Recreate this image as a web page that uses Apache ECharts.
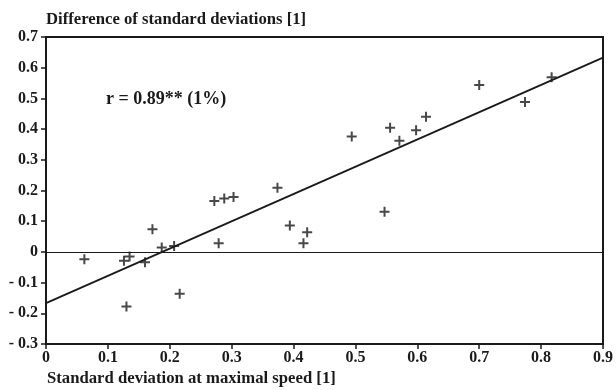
<!DOCTYPE html>
<html>
<head>
<meta charset="utf-8">
<script src="https://cdn.jsdelivr.net/npm/echarts@6/dist/echarts.min.js"></script>
<style>
  html, body { margin: 0; padding: 0; background: #fff; }
  #chart { width: 616px; height: 390px; }
</style>
</head>
<body>
<div id="chart"></div>
<script>
// measured points (x = SD at maximal speed, y = difference of SDs)
const sdMaxSpeed = [0.062, 0.126, 0.135, 0.160, 0.172, 0.187, 0.207, 0.130, 0.216,
  0.272, 0.288, 0.303, 0.374, 0.279, 0.394, 0.422, 0.416,
  0.494, 0.547, 0.556, 0.571, 0.598, 0.614, 0.700, 0.774, 0.817];
const sdDiff = [-0.024, -0.029, -0.015, -0.034, 0.074, 0.014, 0.019, -0.178, -0.136,
  0.166, 0.174, 0.179, 0.209, 0.028, 0.086, 0.064, 0.028,
  0.376, 0.131, 0.404, 0.362, 0.396, 0.440, 0.544, 0.488, 0.569];

// regression line ends
const fitX = [0, 0.9];
const fitY = [-0.167, 0.633];

const xTicks = [0, 0.1, 0.2, 0.3, 0.4, 0.5, 0.6, 0.7, 0.8, 0.9];
const yTicks = [-0.3, -0.2, -0.1, 0, 0.1, 0.2, 0.3, 0.4, 0.5, 0.6, 0.7];

const ink = '#1a1a1a';
const serif = '"Liberation Serif", "Times New Roman", serif';

const chart = echarts.init(document.getElementById('chart'));

const points = sdMaxSpeed.map((x, i) => [x, sdDiff[i]]);
const fit = fitX.map((x, i) => [x, fitY[i]]);

chart.setOption({
  animation: false,
  backgroundColor: '#fff',
  grid: {
    left: 46, right: 13, top: 37, bottom: 46,
    show: true, borderColor: ink, borderWidth: 2, backgroundColor: 'transparent'
  },
  xAxis: {
    type: 'value',
    min: xTicks[0], max: xTicks[xTicks.length - 1], interval: 0.1,
    splitLine: { show: false },
    axisLine: { onZero: false, lineStyle: { color: ink, width: 2 } },
    axisTick: { show: true, length: 5, lineStyle: { color: ink, width: 1.5 } },
    axisLabel: {
      margin: 6, color: ink, fontFamily: serif, fontWeight: 'bold', fontSize: 16,
      formatter: v => (Math.abs(v) < 1e-9 ? '0' : v.toFixed(1))
    }
  },
  yAxis: {
    type: 'value',
    min: yTicks[0], max: yTicks[yTicks.length - 1], interval: 0.1,
    splitLine: { show: false },
    axisLine: { onZero: false, lineStyle: { color: ink, width: 2 } },
    axisTick: { show: true, length: 5, lineStyle: { color: ink, width: 1.5 } },
    axisLabel: {
      margin: 8, color: ink, fontFamily: serif, fontWeight: 'bold', fontSize: 16,
      formatter: v => {
        if (Math.abs(v) < 1e-9) return '0';
        return v < 0 ? '- ' + Math.abs(v).toFixed(1) : v.toFixed(1);
      }
    },
    name: 'Difference of standard deviations [1]',
    nameLocation: 'end',
    nameGap: 9,
    nameTextStyle: {
      align: 'left', color: ink, fontFamily: serif, fontWeight: 'bold', fontSize: 16.7
    }
  },
  graphic: [
    {
      type: 'text', left: 47, top: 370,
      style: {
        text: 'Standard deviation at maximal speed [1]',
        fill: ink, font: 'bold 16.7px ' + serif
      }
    },
    {
      type: 'text', left: 106, top: 90,
      style: { text: 'r = 0.89** (1%)', fill: ink, font: 'bold 18px ' + serif }
    }
  ],
  series: [
    {
      type: 'line',
      data: fit,
      symbol: 'none',
      lineStyle: { color: ink, width: 1.8 },
      markLine: {
        silent: true, symbol: 'none', label: { show: false },
        lineStyle: { color: ink, width: 1.2, type: 'solid' },
        data: [{ yAxis: 0 }]
      }
    },
    {
      type: 'scatter',
      data: points,
      symbol: 'path://M0,5L10,5M5,0L5,10',
      symbolSize: 10,
      itemStyle: { color: 'none', borderColor: ink, borderWidth: 2 }
    }
  ]
});
</script>
</body>
</html>
